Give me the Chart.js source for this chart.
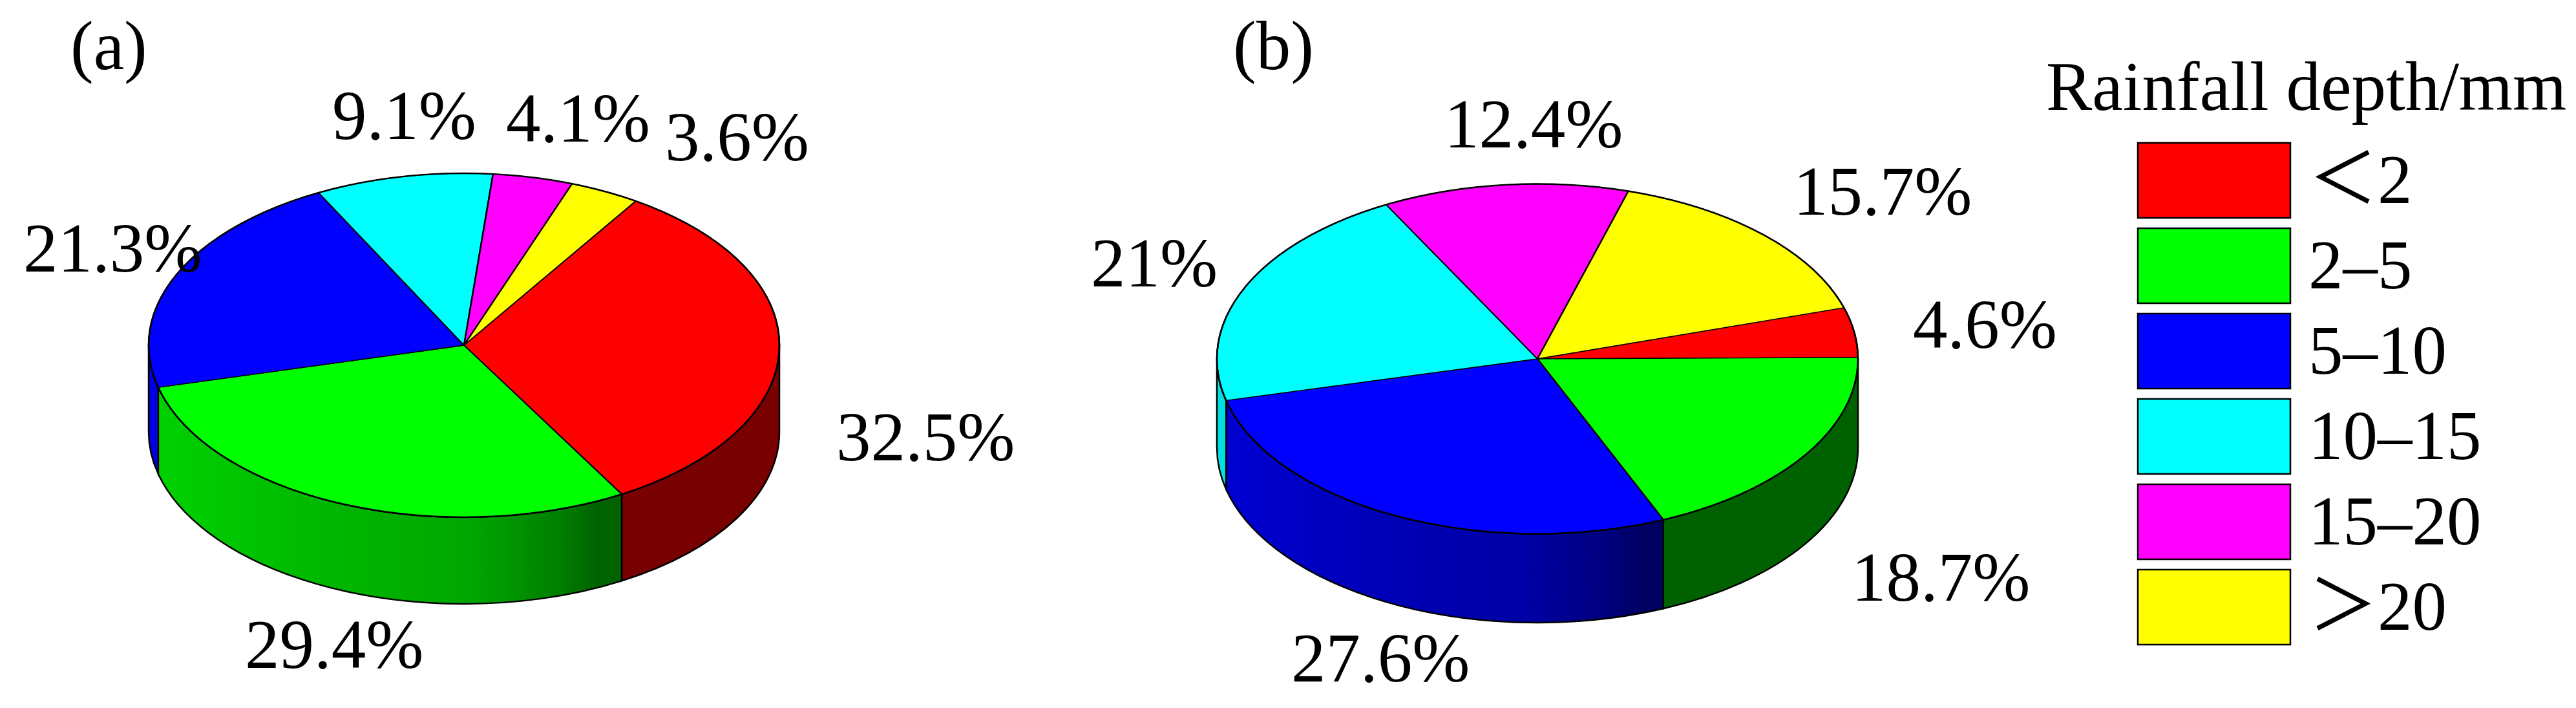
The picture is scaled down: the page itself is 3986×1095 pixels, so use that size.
<!DOCTYPE html>
<html>
<head>
<meta charset="utf-8">
<title>Rainfall depth</title>
<script src="https://cdn.jsdelivr.net/npm/chart.js@4"></script>
<style>
  html, body { margin: 0; padding: 0; background: #fff; }
  #wrap { position: relative; width: 3986px; height: 1095px; overflow: hidden; }
  canvas { position: absolute; top: 0; }
</style>
</head>
<body>
<div id="wrap">
  <canvas id="pieA" width="1600" height="1095" style="left:0"></canvas>
  <canvas id="pieB" width="2386" height="1095" style="left:1600px"></canvas>
</div>
<script>
// categories and values
const categorias = ["＜2", "2–5", "5–10", "10–15", "15–20", "＞20"];
const valoresA = [32.5, 29.4, 21.3, 9.1, 4.1, 3.6];
const valoresB = [4.6, 18.7, 27.6, 21, 12.4, 15.7];
const cores = ["#ff0000", "#00ff00", "#0000ff", "#00ffff", "#ff00ff", "#ffff00"];
const escuro = [0.47, 0.38, 0.39, 0.39, 0.39, 0.39];
const tituloLegenda = "Rainfall depth/mm";

const FONTE = '107px "Liberation Serif", "Noto Sans CJK SC", serif';

function sombra(hex, f) {
  const n = parseInt(hex.slice(1), 16);
  const r = Math.round(((n >> 16) & 255) * f);
  const g = Math.round(((n >> 8) & 255) * f);
  const b = Math.round((n & 255) * f);
  return "rgb(" + r + "," + g + "," + b + ")";
}

// side wall of the disc + squash of the chart's own arcs into an ellipse
const pie3d = {
  id: "pie3d",
  beforeDatasetsDraw(chart, args, opts) {
    const ctx = chart.ctx;
    const arcs = chart.getDatasetMeta(0).data;
    const rx = arcs[0].outerRadius;
    const ry = rx * opts.squash;

    arcs.forEach((arc, i) => {
      [-2 * Math.PI, 0, 2 * Math.PI].forEach(shift => {
        const a0 = Math.max(arc.startAngle + shift, 0);
        const a1 = Math.min(arc.endAngle + shift, Math.PI);
        if (a1 <= a0) return;

        const x0 = opts.cx + rx * Math.cos(a1);
        const x1 = opts.cx + rx * Math.cos(a0);
        let fill;
        if (x0 > opts.cx) {
          fill = sombra(cores[i], escuro[i]);
        } else if (x1 < opts.cx) {
          fill = sombra(cores[i], 0.88);
        } else {
          fill = ctx.createLinearGradient(x0, 0, x1, 0);
          fill.addColorStop(0, sombra(cores[i], 0.82));
          fill.addColorStop(0.35, sombra(cores[i], 0.72));
          fill.addColorStop(0.68, sombra(cores[i], 0.65));
          fill.addColorStop(0.86, sombra(cores[i], 0.5));
          fill.addColorStop(0.95, sombra(cores[i], 0.39));
          fill.addColorStop(1, sombra(cores[i], 0.38));
        }

        ctx.save();
        ctx.beginPath();
        ctx.ellipse(opts.cx, opts.cy, rx, ry, 0, a0, a1);
        ctx.lineTo(opts.cx + rx * Math.cos(a1), opts.cy + ry * Math.sin(a1) + opts.depth);
        ctx.ellipse(opts.cx, opts.cy + opts.depth, rx, ry, 0, a1, a0, true);
        ctx.closePath();
        ctx.fillStyle = fill;
        ctx.fill();
        ctx.lineWidth = 2.5;
        ctx.strokeStyle = "#000";
        ctx.stroke();
        ctx.restore();
      });
    });

    ctx.save();
    ctx.translate(opts.cx, opts.cy);
    ctx.scale(1, opts.squash);
    ctx.translate(-arcs[0].x, -arcs[0].y);
  },
  afterDatasetsDraw(chart, args, opts) {
    const ctx = chart.ctx;
    ctx.restore();

    // the squash thins the rim, so it gets one more pass at full width
    const rx = chart.getDatasetMeta(0).data[0].outerRadius;
    ctx.save();
    ctx.beginPath();
    ctx.ellipse(opts.cx, opts.cy, rx, rx * opts.squash, 0, 0, 2 * Math.PI);
    ctx.lineWidth = 2.5;
    ctx.strokeStyle = "#000";
    ctx.stroke();
    ctx.restore();

    ctx.save();
    ctx.font = FONTE;
    ctx.fillStyle = "#000";
    ctx.textBaseline = "alphabetic";
    ctx.textAlign = "left";
    ctx.fillText(opts.painel[0], opts.painel[1], opts.painel[2]);
    chart.data.datasets[0].data.forEach((v, i) => {
      ctx.fillText(v + "%", opts.rotulos[i][0], opts.rotulos[i][1]);
    });
    ctx.restore();
  }
};

const legendaChuva = {
  id: "legendaChuva",
  afterDraw(chart, args, opts) {
    if (!opts.mostrar) return;
    const ctx = chart.ctx;
    ctx.save();
    ctx.font = FONTE;
    ctx.textBaseline = "alphabetic";
    ctx.fillStyle = "#000";
    ctx.fillText(tituloLegenda, opts.tituloX, opts.tituloY);
    chart.data.labels.forEach((txt, i) => {
      const y = opts.y + i * opts.passo;
      ctx.fillStyle = cores[i];
      ctx.fillRect(opts.x, y, opts.w, opts.h);
      ctx.lineWidth = 2.5;
      ctx.strokeStyle = "#000";
      ctx.strokeRect(opts.x, y, opts.w, opts.h);
      ctx.fillStyle = "#000";
      ctx.fillText(txt, opts.x + opts.w + 28, y + 93);
    });
    ctx.restore();
  }
};

function criarPizza(id, valores, rotacao, raio, pie3dOpts, legendaOpts) {
  return new Chart(document.getElementById(id), {
    type: "pie",
    data: {
      labels: categorias,
      datasets: [{
        data: valores,
        backgroundColor: cores,
        borderColor: "#000",
        borderWidth: 2.5,
        radius: raio,
        clip: false
      }]
    },
    options: {
      responsive: false,
      animation: false,
      rotation: rotacao,
      events: [],
      plugins: {
        legend: { display: false },
        tooltip: { enabled: false },
        pie3d: pie3dOpts,
        legendaChuva: legendaOpts
      }
    },
    plugins: [pie3d, legendaChuva]
  });
}

document.addEventListener("DOMContentLoaded", () => {
  criarPizza("pieA", valoresA, 33, 488, {
    cx: 718, cy: 534, squash: 0.545, depth: 134,
    painel: ["(a)", 109, 107],
    rotulos: [[1294, 712], [379, 1033], [36, 420], [514, 215], [783, 219], [1029, 248]]
  }, { mostrar: false });

  // pieB canvas starts at x=1600
  criarPizza("pieB", valoresB, 73, 496, {
    cx: 779, cy: 555, squash: 0.5455, depth: 137.5,
    painel: ["(b)", 308, 107],
    rotulos: [[1360, 538], [1265, 929], [398, 1054], [88, 443], [635, 228], [1175, 332]]
  }, {
    mostrar: true,
    tituloX: 1566, tituloY: 170,
    x: 1708, y: 221, w: 236, h: 116, passo: 132
  });
});
</script>
</body>
</html>
